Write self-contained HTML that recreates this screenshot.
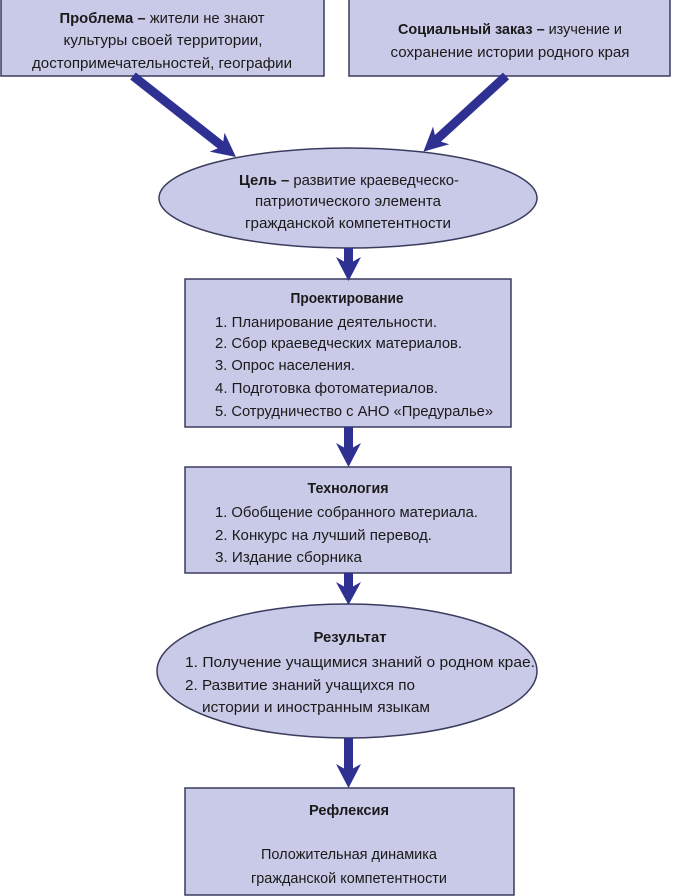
<!DOCTYPE html>
<html><head><meta charset="utf-8"><style>
html,body{margin:0;padding:0;background:#fff}
svg{display:block}
text{font-family:"Liberation Sans Narrow","Liberation Sans",sans-serif;font-size:15px;fill:#1a1a1a}
.b{font-weight:bold}
</style></head><body>
<svg width="674" height="896" viewBox="0 0 674 896" xmlns="http://www.w3.org/2000/svg">
<defs>
<g id="ah"><polygon points="0,0 -24,-12 -17,0 -24,12" fill="#2e3192"/></g>
</defs>
<g fill="#c9c9e8" stroke="#3b3b5e" stroke-width="1.5">
<rect x="1" y="-2" width="323" height="78"/>
<rect x="349" y="-2" width="321" height="78"/>
<ellipse cx="348" cy="198" rx="189" ry="50"/>
<rect x="185" y="279" width="326" height="148"/>
<rect x="185" y="467" width="326" height="106"/>
<ellipse cx="347" cy="671" rx="190" ry="67"/>
<rect x="185" y="788" width="329" height="107"/>
</g>
<!-- arrows -->
<g transform="translate(133,76) rotate(38.2)"><rect x="0" y="-4.5" width="115" height="9" fill="#2e3192"/><use href="#ah" x="131"/></g>
<g transform="translate(506,76) rotate(137.5)"><rect x="0" y="-4.5" width="96" height="9" fill="#2e3192"/><use href="#ah" x="112"/></g>
<g fill="#2e3192">
<rect x="344" y="248" width="9" height="18"/><polygon points="348.5,281 336,257 348.5,264 361,257"/>
<rect x="344" y="427" width="9" height="26"/><polygon points="348.5,467 336,443 348.5,450 361,443"/>
<rect x="344" y="573" width="9" height="18"/><polygon points="348.5,605 336,582 348.5,589 361,582"/>
<rect x="344" y="738" width="9" height="36"/><polygon points="348.5,788 336,764 348.5,771 361,764"/>
</g>
<!-- texts -->
<g text-anchor="middle">
<text x="162" y="23" textLength="205" lengthAdjust="spacingAndGlyphs"><tspan class="b">Проблема –</tspan> жители не знают</text>
<text x="163" y="45" textLength="199" lengthAdjust="spacingAndGlyphs">культуры своей территории,</text>
<text x="162" y="68" textLength="260" lengthAdjust="spacingAndGlyphs">достопримечательностей, географии</text>
<text x="510" y="34" textLength="224" lengthAdjust="spacingAndGlyphs"><tspan class="b">Социальный заказ –</tspan> изучение и</text>
<text x="510" y="57" textLength="239" lengthAdjust="spacingAndGlyphs">сохранение истории родного края</text>
<text x="349" y="185" textLength="220" lengthAdjust="spacingAndGlyphs"><tspan class="b">Цель –</tspan> развитие краеведческо-</text>
<text x="348" y="206" textLength="186" lengthAdjust="spacingAndGlyphs">патриотического элемента</text>
<text x="348" y="228" textLength="206" lengthAdjust="spacingAndGlyphs">гражданской компетентности</text>
<text class="b" x="347" y="303" textLength="113" lengthAdjust="spacingAndGlyphs">Проектирование</text>
<text class="b" x="348" y="493" textLength="81" lengthAdjust="spacingAndGlyphs">Технология</text>
<text class="b" x="350" y="642" textLength="73" lengthAdjust="spacingAndGlyphs">Результат</text>
<text class="b" x="349" y="815" textLength="80" lengthAdjust="spacingAndGlyphs">Рефлексия</text>
<text x="349" y="859" textLength="176" lengthAdjust="spacingAndGlyphs">Положительная динамика</text>
<text x="349" y="883" textLength="196" lengthAdjust="spacingAndGlyphs">гражданской компетентности</text>
</g>
<g>
<text x="215" y="327" textLength="222" lengthAdjust="spacingAndGlyphs">1. Планирование деятельности.</text>
<text x="215" y="348" textLength="247" lengthAdjust="spacingAndGlyphs">2. Сбор краеведческих материалов.</text>
<text x="215" y="370" textLength="140" lengthAdjust="spacingAndGlyphs">3. Опрос населения.</text>
<text x="215" y="393" textLength="223" lengthAdjust="spacingAndGlyphs">4. Подготовка фотоматериалов.</text>
<text x="215" y="416" textLength="278" lengthAdjust="spacingAndGlyphs">5. Сотрудничество с АНО «Предуралье»</text>
<text x="215" y="517" textLength="263" lengthAdjust="spacingAndGlyphs">1. Обобщение собранного материала.</text>
<text x="215" y="540" textLength="217" lengthAdjust="spacingAndGlyphs">2. Конкурс на лучший перевод.</text>
<text x="215" y="562" textLength="147" lengthAdjust="spacingAndGlyphs">3. Издание сборника</text>
<text x="185" y="667" textLength="350" lengthAdjust="spacingAndGlyphs">1. Получение учащимися знаний о родном крае.</text>
<text x="185" y="690" textLength="230" lengthAdjust="spacingAndGlyphs">2. Развитие знаний учащихся по</text>
<text x="202" y="712" textLength="228" lengthAdjust="spacingAndGlyphs">истории и иностранным языкам</text>
</g>
</svg>
</body></html>
